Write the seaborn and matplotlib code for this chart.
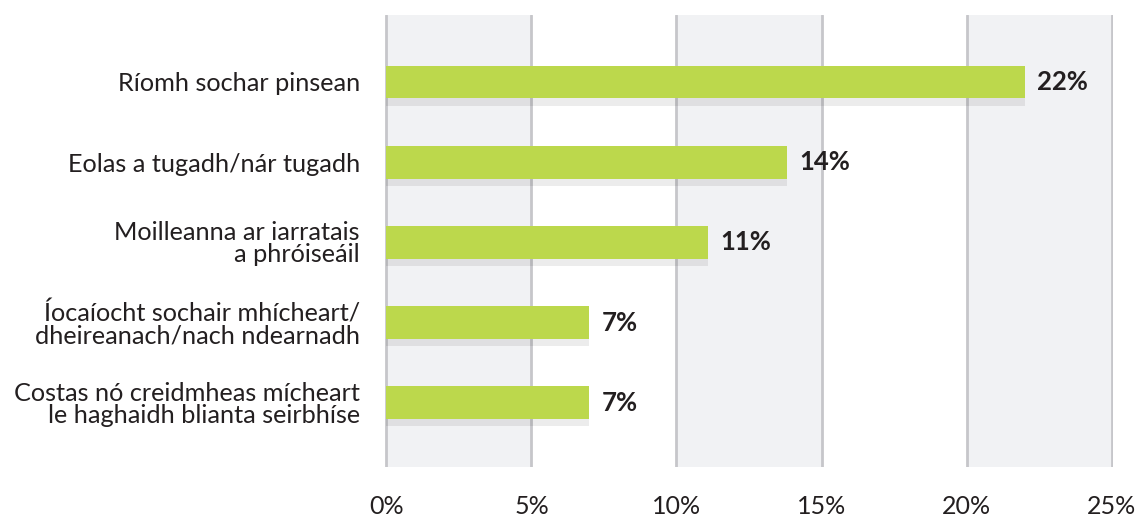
import matplotlib
matplotlib.use("Agg")
import matplotlib.pyplot as plt
import seaborn as sns
import pandas as pd

categories = [
    "Ríomh sochar pinsean",
    "Eolas a tugadh/nár tugadh",
    "Moilleanna ar iarratais\na phróiseáil",
    "Íocaíocht sochair mhícheart/\ndheireanach/nach ndearnadh",
    "Costas nó creidmheas mícheart\nle haghaidh blianta seirbhíse",
]
values = [22.0, 13.8, 11.1, 7.0, 7.0]
value_labels = ["22%", "14%", "11%", "7%", "7%"]
xticks = [0, 5, 10, 15, 20, 25]
xtick_labels = ["0%", "5%", "10%", "15%", "20%", "25%"]

sns.set_theme(style="white")
plt.rcParams["font.family"] = ["Lato", "DejaVu Sans"]

TEXT = "#231f20"
GREEN = "#bcd84c"
BAND = "#f1f2f4"
GRID = "#c6c6ca"

df = pd.DataFrame({"cat": categories, "val": values})

fig = plt.figure(figsize=(11.37, 5.18), dpi=100)
ax = fig.add_axes([385 / 1137, 1 - 467 / 518, (1113 - 385) / 1137, (467 - 15) / 518])

# background bands
for a, b in [(0, 5), (10, 15), (20, 25)]:
    ax.axvspan(a, b, color=BAND, zorder=0, lw=0)
for t in xticks:
    ax.axvline(t, color=GRID, lw=2, zorder=1)

bh = 0.41
# shadow
ax.barh([i + 0.09 for i in range(len(values))], values, height=bh,
        color="black", alpha=0.075, zorder=2, lw=0)
sns.barplot(data=df, y="cat", x="val", orient="h", color=GREEN, saturation=1,
            width=bh, ax=ax, zorder=3)
for p in ax.patches:
    p.set_linewidth(0)

for i, (v, lab) in enumerate(zip(values, value_labels)):
    ax.text(v + 0.42, i, lab, va="center", ha="left", fontsize=18.5,
            fontweight="bold", color=TEXT, zorder=4)

ax.set_xlim(-0.05, 25.05)
ax.set_ylim(4.80, -0.835)
ax.set_xticks(xticks)
ax.set_xticklabels(xtick_labels, fontsize=18, color=TEXT)
ax.set_yticks(range(len(categories)))
ax.set_yticklabels(categories, fontsize=18.2, color=TEXT, linespacing=0.95)
ax.tick_params(axis="x", length=0, pad=20)
ax.tick_params(axis="y", length=0, pad=18)
ax.set_xlabel("")
ax.set_ylabel("")
for s in ax.spines.values():
    s.set_visible(False)
ax.grid(False)

fig.savefig("out.png", dpi=100, facecolor="white")
